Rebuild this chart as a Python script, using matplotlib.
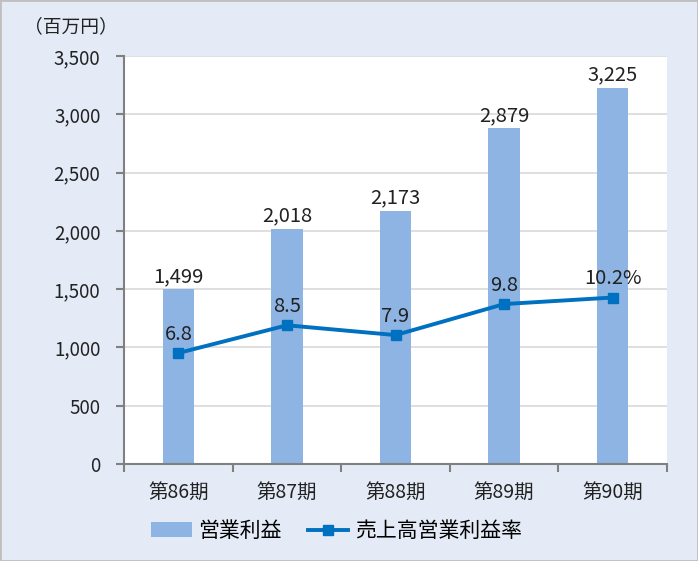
import numpy as np
import matplotlib
matplotlib.use("Agg")
import matplotlib.pyplot as plt
from matplotlib.patches import Rectangle

plt.rcParams['font.family'] = ['Noto Sans CJK JP', 'DejaVu Sans']

periods = ['第86期', '第87期', '第88期', '第89期', '第90期']
profit = [1499, 2018, 2173, 2879, 3225]
margin = [6.8, 8.5, 7.9, 9.8, 10.2]
margin_labels = ['6.8', '8.5', '7.9', '9.8', '10.2%']

bg = '#E4EBF7'
bar_c = '#8EB4E3'
line_c = '#0070C0'
txt = '#222222'

fig = plt.figure(figsize=(6.98, 5.61), dpi=100, facecolor=bg)
fig.patches.append(Rectangle((0, 0), 1, 1, transform=fig.transFigure,
                             fill=False, edgecolor='#BFBFBF', lw=2))
ax = fig.add_axes([0.1777, 0.1729, 0.7779, 0.7273])
ax.set_facecolor('white')
x = np.arange(len(periods))
bars = ax.bar(x, profit, width=0.29, color=bar_c, zorder=2, label='営業利益')
ax.set_xlim(-0.5, 4.5)
ax.set_ylim(0, 3500)
ax.set_yticks(range(0, 3501, 500))
ax.set_yticklabels([f'{v:,}' for v in range(0, 3501, 500)], fontsize=13.5, color=txt)
ax.yaxis.grid(True, color='#D9D9D9', lw=1.2, zorder=0)
ax.set_xticks(x)
ax.set_xticklabels(periods, fontsize=14, color=txt)
ax.set_xticks(np.arange(-0.5, 5, 1), minor=True)
ax.tick_params(axis='x', which='major', length=0, pad=13)
ax.tick_params(axis='x', which='minor', length=6, color='#808080', width=1.5)
ax.tick_params(axis='y', length=6, color='#808080', width=1.5, pad=11)
for s in ['top', 'right']:
    ax.spines[s].set_visible(False)
for s in ['left', 'bottom']:
    ax.spines[s].set_color('#808080')
    ax.spines[s].set_linewidth(1.5)
for xi, v in zip(x, profit):
    ax.text(xi, v + 20, f'{v:,}', ha='center', va='bottom', fontsize=14.5, color=txt)

ax2 = ax.twinx()
ax2.set_ylim(0, 25)
ax2.axis('off')
ln, = ax2.plot(x, margin, color=line_c, lw=2.8, marker='s', markersize=7, zorder=3,
               label='売上高営業利益率')
for xi, v, lab in zip(x, margin, margin_labels):
    ax2.text(xi, v + 0.5, lab, ha='center', va='bottom', fontsize=14.5, color=txt)

fig.text(0.035, 0.953, '（百万円）', fontsize=13.5, color=txt, ha='left', va='center')

fig.legend(handles=[bars, ln], loc='center', bbox_to_anchor=(0.482, 0.0535), ncol=2,
           frameon=False, fontsize=15, handlelength=1.95, columnspacing=1.25,
           handletextpad=0.3)

fig.savefig('out.png', dpi=100, facecolor=bg)
